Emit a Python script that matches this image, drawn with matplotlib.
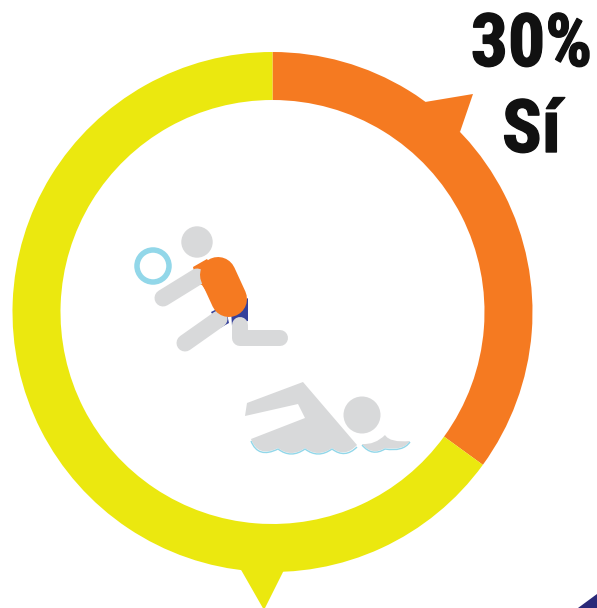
import matplotlib
matplotlib.use('Agg')
import matplotlib.pyplot as plt
import matplotlib.patheffects as pe
from matplotlib.patches import Circle, Polygon, PathPatch
from matplotlib.path import Path

answers = ['Sí', 'No']
shares = [35, 65]
share_label = '30%'
answer_label = 'Sí'
ring_colors = ['#f57a21', '#ebe80f']

GRAY = '#d8d9da'
ORANGE = '#f57a21'
NAVY = '#34409b'
LIGHT_BLUE = '#92d7e9'


def px(w):
  return w * 0.72


def curve(points, **kw):
  # first point is a move, the rest go in pairs (control, end)
  codes = [Path.MOVETO] + [Path.CURVE3] * (len(points) - 1)
  return PathPatch(Path(points, codes), **kw)


fig = plt.figure(figsize=(5.97, 6.08), dpi=100)
ax = fig.add_axes([0, 0, 1, 1])

# y axis is flipped, so -90 is the top of the ring and angles run clockwise
ax.pie(shares, colors=ring_colors, startangle=-90, counterclock=True,
       center=(272.5, 312), radius=260, wedgeprops={'width': 48, 'linewidth': 0})
ax.set_xlim(0, 597)
ax.set_ylim(608, 0)
ax.axis('off')

# speech bubble tails
ax.add_patch(Polygon([(425, 102), (473, 94), (460, 132), (440, 125)], fc=ring_colors[0], ec='none'))
ax.add_patch(Polygon([(240, 568), (285, 568), (264, 610)], fc=ring_colors[1], ec='none'))

# corner of the next panel
ax.add_patch(Polygon([(578, 608), (597, 594), (597, 608)], fc='#2a2878', ec='none'))

# volleyball player
ax.add_patch(Circle((153, 266), 16, fc='none', ec=LIGHT_BLUE, lw=px(5.5)))
ax.add_patch(Circle((197, 242), 15.7, fc=GRAY, ec='none'))
ax.plot([163, 197], [298, 277], color=GRAY, lw=px(17), solid_capstyle='round')
ax.plot([185, 219], [343, 319], color=GRAY, lw=px(17), solid_capstyle='round')
ax.plot([240, 240, 280], [325, 338, 338], color=GRAY, lw=px(16),
        solid_capstyle='round', solid_joinstyle='round')
ax.add_patch(Polygon([(211, 312), (220, 328), (229, 323), (225, 305)], fc=NAVY, ec='none'))
ax.add_patch(Polygon([(248, 298), (248, 321), (232, 326), (231, 310)], fc=NAVY, ec='none'))
ax.add_patch(Polygon([(193, 267), (207, 259), (218, 275), (212, 300), (202, 285), (197, 284)],
                     fc=ORANGE, ec='none'))
ax.plot([218, 229], [275, 299], color=ORANGE, lw=px(36), solid_capstyle='round')

# swimmer
ax.add_patch(Circle((362, 415), 18.5, fc=GRAY, ec='none'))
body_pts = [(247, 403), (303, 382), (357, 445),
            (345, 458), (332, 448), (318, 458), (305, 448), (291, 458), (278, 448), (258, 458), (251, 439),
            (305, 418), (298, 404), (245, 416), (247, 403)]
body_codes = [Path.MOVETO, Path.LINETO, Path.LINETO] + [Path.CURVE3] * 8 + [Path.LINETO] * 3 + [Path.CLOSEPOLY]
ax.add_patch(PathPatch(Path(body_pts, body_codes), fc=GRAY, ec='none'))
ax.add_patch(curve([(251, 441), (258, 459), (278, 449), (291, 459), (305, 449),
                    (318, 459), (332, 449), (345, 459), (357, 447)],
                   fc='none', ec=LIGHT_BLUE, lw=px(1.4)))
ax.add_patch(curve([(362, 444), (375, 445), (385, 435), (390, 443), (410, 441),
                    (403, 451), (385, 448), (372, 456), (362, 444)], fc=GRAY, ec='none'))
ax.add_patch(curve([(362, 445), (372, 457), (385, 449), (403, 452), (410, 442)],
                   fc='none', ec=LIGHT_BLUE, lw=px(1.4)))

font = ['Roboto Condensed', 'Liberation Sans', 'DejaVu Sans']
heavier = [pe.withStroke(linewidth=1.0, foreground='#111111')]
ax.text(531.5, 66, share_label, ha='center', va='baseline', color='#111111',
        family=font, weight='bold', fontsize=53, path_effects=heavier)
ax.text(531.5, 152, answer_label, ha='center', va='baseline', color='#111111',
        family=font, weight='bold', fontsize=53, path_effects=heavier)

fig.savefig('out.png', dpi=100)
